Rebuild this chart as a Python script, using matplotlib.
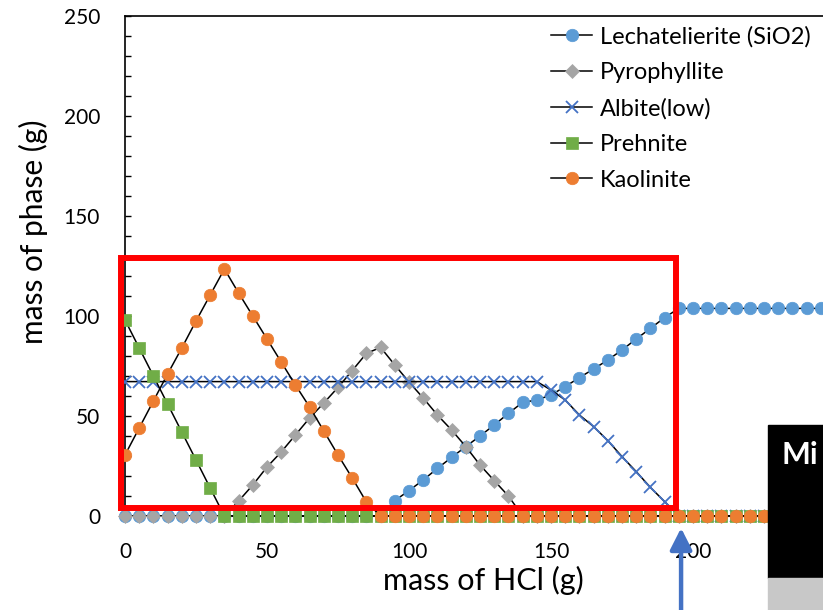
import matplotlib
matplotlib.use("Agg")
import matplotlib.pyplot as plt
from matplotlib.patches import Rectangle
from matplotlib.ticker import MultipleLocator, FixedLocator

plt.rcParams['font.family'] = ['Lato', 'DejaVu Sans']

# mass of HCl added (g)
hcl = [0, 5, 10, 15, 20, 25, 30, 35, 40, 45, 50, 55, 60, 65, 70, 75, 80, 85, 90, 95,
       100, 105, 110, 115, 120, 125, 130, 135, 140, 145, 150, 155, 160, 165, 170, 175,
       180, 185, 190, 195, 200, 205, 210, 215, 220, 225, 230, 235, 240, 245, 250]

# mass of each phase (g)
lechatelierite = ([0.0] * 19 +
                  [7.7, 12.7, 18.0, 23.8, 29.3, 34.7, 40.0, 45.5, 51.3, 56.8, 58.0,
                   60.5, 64.7, 69.2, 73.5, 78.0, 83.0, 88.5, 93.8, 99.2, 103.8] +
                  [103.8] * 11)
pyrophyllite = ([0.0] * 8 +
                [7.5, 15.5, 24.5, 32.0, 40.5, 49.0, 56.5, 64.3, 72.7, 81.3, 84.3,
                 75.5, 67.0, 59.0, 50.5, 43.0, 34.7, 25.5, 17.7, 10.0] +
                [0.0] * 23)
albite = ([67.2] * 30 +
          [63.0, 58.0, 50.5, 44.7, 37.7, 29.7, 22.2, 14.3, 7.2] +
          [0.0] * 12)
prehnite = ([98.0, 84.0, 70.0, 56.0, 42.0, 28.0, 14.0, 0.0] +
            [0.0] * 43)
kaolinite = ([30.5, 44.0, 57.5, 71.0, 84.0, 97.5, 110.5, 123.5, 111.5, 100.0, 88.5,
              77.0, 65.5, 54.5, 42.5, 30.5, 19.0, 7.0] +
             [0.0] * 33)

x_ticks = [0, 50, 100, 150, 200]

series = [
    (lechatelierite, 'Lechatelierite (SiO2)', 'o', '#5B9BD5', 9),
    (pyrophyllite, 'Pyrophyllite', 'D', '#A5A5A5', 7.5),
    (albite, 'Albite(low)', 'x', '#4472C4', 8),
    (prehnite, 'Prehnite', 's', '#70AD47', 8),
    (kaolinite, 'Kaolinite', 'o', '#ED7D31', 9),
]

W, H = 823, 610
fig = plt.figure(figsize=(W / 100, H / 100), dpi=100)
ax = fig.add_axes([125 / W, 94 / H, 852 / W, 500 / H])

for y, label, m, c, ms in series:
    ax.plot(hcl, y, color='black', lw=1.1, marker=m, ms=ms, mfc=c, mec=c,
            mew=1.3 if m == 'x' else 0.5, label=label, clip_on=False, zorder=3)

ax.set_xlim(0, 300)
ax.set_ylim(0, 250)
ax.xaxis.set_major_locator(FixedLocator(x_ticks))
ax.yaxis.set_major_locator(MultipleLocator(50))
ax.yaxis.set_minor_locator(MultipleLocator(10))
ax.tick_params(axis='y', which='both', direction='in', length=4.5, width=1,
               pad=18, labelsize=15)
ax.tick_params(axis='x', which='both', length=0, pad=19, labelsize=15)
for side in ['left', 'top', 'bottom']:
    ax.spines[side].set_linewidth(1.2)
ax.spines['right'].set_visible(False)

ax.set_ylabel('mass of phase (g)', fontsize=21.5, va='center', ha='center')
ax.yaxis.set_label_coords(33 / W, 1 - 232 / H, transform=fig.transFigure)
ax.set_xlabel('mass of HCl (g)', fontsize=22, va='center', ha='center')
ax.xaxis.set_label_coords(483 / W, 1 - 580 / H, transform=fig.transFigure)

ax.legend(loc='upper left', bbox_to_anchor=(551 / W, 1 - 26 / H),
          bbox_transform=fig.transFigure, frameon=False, fontsize=17,
          handlelength=1.74, handletextpad=0.34, labelspacing=0.62,
          borderaxespad=0, borderpad=0, numpoints=1)

# highlight box and arrow
ax.add_patch(Rectangle((-1.4, 4), 195.4, 125, fill=False, ec='red', lw=4.3,
                       clip_on=False, zorder=5))
ax.annotate('', xy=(195.8, -6), xytext=(195.8, -55),
            arrowprops=dict(arrowstyle='-|>,head_length=0.65,head_width=0.33',
                            color='#4472C4', lw=3.2, mutation_scale=20,
                            shrinkA=0, shrinkB=0),
            annotation_clip=False)

# table panel at the lower right
fig.add_artist(Rectangle((768 / W, 32 / H), 0.2, 153 / H,
                         transform=fig.transFigure, color='black', zorder=6))
fig.add_artist(Rectangle((768 / W, 0), 0.2, 32 / H,
                         transform=fig.transFigure, color='#C8C8C8', zorder=6))
fig.text(782 / W, 1 - 455 / H, 'Mi', color='white', fontsize=22,
         fontweight='bold', va='center', ha='left', zorder=7)

fig.savefig('out.png', dpi=100)
